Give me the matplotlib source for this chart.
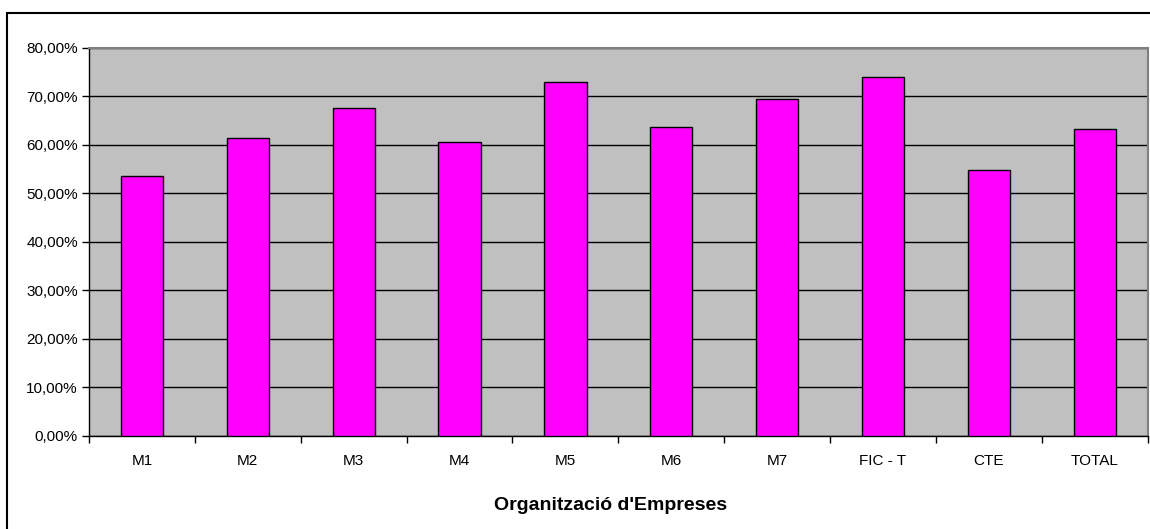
import numpy as np
import matplotlib.pyplot as plt
from matplotlib.patches import Rectangle
from matplotlib.ticker import FuncFormatter, MultipleLocator

# data (percent)
categories = ["M1", "M2", "M3", "M4", "M5", "M6", "M7", "FIC - T", "CTE", "TOTAL"]
values = [53.5, 61.3, 67.5, 60.5, 72.9, 63.6, 69.5, 74.0, 54.8, 63.3]
x_title = "Organització d'Empreses"

plt.rcParams["font.family"] = ["Liberation Sans", "DejaVu Sans"]

fig = plt.figure(figsize=(11.5, 5.29), dpi=100)
ax = fig.add_axes([0.0774, 0.1767, 0.9206, 0.7331])

x = np.arange(len(categories))
ax.bar(x, values, width=0.4, color="#FF00FF", edgecolor="black", linewidth=1.0, zorder=3)

ax.set_facecolor("#C0C0C0")
ax.set_xlim(-0.5, len(categories) - 0.5)
ax.set_ylim(0, 80)
ax.yaxis.set_major_locator(MultipleLocator(10))
ax.yaxis.set_major_formatter(FuncFormatter(lambda v, p: f"{v:.2f}%".replace(".", ",")))
ax.grid(axis="y", color="black", linewidth=1.0, zorder=1)

# categories between ticks, ticks on boundaries
ax.set_xticks(x)
ax.set_xticklabels(categories)
ax.set_xticks(np.arange(len(categories) + 1) - 0.5, minor=True)
ax.tick_params(axis="x", which="major", length=0, pad=13, labelsize=11)
ax.tick_params(axis="x", which="minor", length=5, width=1, color="black", direction="out")
ax.tick_params(axis="y", length=5, width=1, direction="out", labelsize=11, pad=3)

for side in ["top", "right"]:
    ax.spines[side].set_color("#808080")
    ax.spines[side].set_linewidth(1.5)
for side in ["left", "bottom"]:
    ax.spines[side].set_color("black")
    ax.spines[side].set_linewidth(1.0)

fig.text(0.531, 0.045, x_title, ha="center", va="center", fontsize=14, fontweight="bold")

# chart area border
fig.patches.append(Rectangle((0.006, -0.1), 1.2, 0.9754 + 0.1, transform=fig.transFigure,
                             fill=False, edgecolor="black", linewidth=1.5))

fig.savefig("out.png", dpi=100)
